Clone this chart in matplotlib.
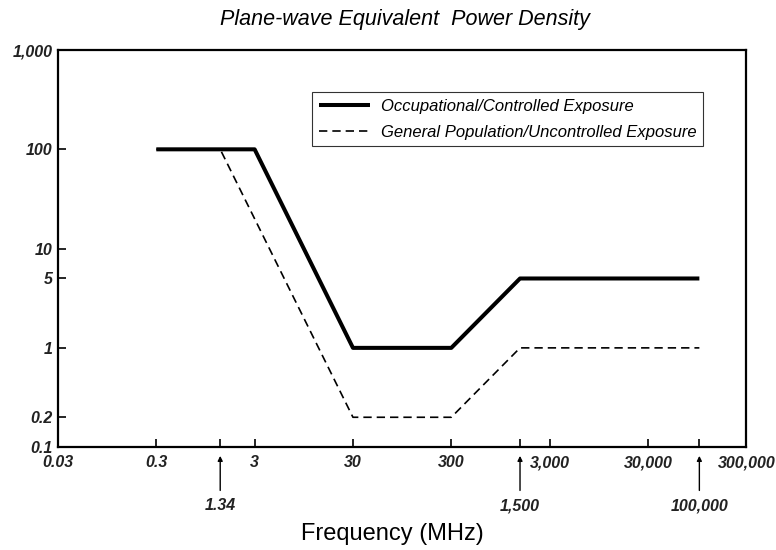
import numpy as np
import matplotlib.pyplot as plt
from matplotlib.ticker import FixedLocator, NullLocator

plt.rcParams['font.family'] = ['Liberation Sans', 'DejaVu Sans']

# data
occ_freq = [0.3, 3, 30, 300, 1500, 100000]
occ_pd = [100, 100, 1, 1, 5, 5]
gen_freq = [0.3, 1.34, 30, 300, 1500, 100000]
gen_pd = [100, 100, 0.2, 0.2, 1, 1]

x_ticks = [0.03, 0.3, 3, 30, 300, 3000, 30000, 300000]
x_labels = ['0.03', '0.3', '3', '30', '300', '3,000', '30,000', '300,000']
y_ticks = [0.1, 0.2, 1, 5, 10, 100, 1000]
y_labels = ['0.1', '0.2', '1', '5', '10', '100', '1,000']
mark_freq = [1.34, 1500, 100000]
mark_labels = ['1.34', '1,500', '100,000']

fig = plt.figure(figsize=(7.76, 5.5), dpi=100)
ax = fig.add_axes([0.0747, 0.187, 0.887, 0.722])

ax.plot(occ_freq, occ_pd, color='black', lw=2.9, solid_capstyle='butt',
        label='Occupational/Controlled Exposure')
ax.plot(gen_freq, gen_pd, color='black', lw=1.2, dashes=(5, 3),
        label='General Population/Uncontrolled Exposure')

ax.set_xscale('log')
ax.set_yscale('log')
ax.set_xlim(0.03, 300000)
ax.set_ylim(0.1, 1000)

ax.xaxis.set_major_locator(FixedLocator(x_ticks + mark_freq))
ax.set_xticklabels(x_labels + [''] * len(mark_freq))
ax.xaxis.set_minor_locator(NullLocator())
ax.yaxis.set_major_locator(FixedLocator(y_ticks))
ax.set_yticklabels(y_labels)
ax.yaxis.set_minor_locator(NullLocator())

ax.tick_params(direction='in', length=5.5, width=1.2)
ax.tick_params(axis='x', pad=6)
ax.tick_params(axis='y', pad=4)
for lab in ax.get_xticklabels() + ax.get_yticklabels():
    lab.set_fontstyle('italic')
    lab.set_fontsize(11.5)
    lab.set_fontweight('bold')
    lab.set_color('#222222')
for s in ax.spines.values():
    s.set_linewidth(1.6)

# arrows marking the break frequencies
trans = ax.get_xaxis_transform()
for f, t in zip(mark_freq, mark_labels):
    ax.annotate('', xy=(f, -0.015), xycoords=trans,
                xytext=(f, -0.116), textcoords=trans,
                arrowprops=dict(arrowstyle='-|>', color='black', lw=1.0,
                                mutation_scale=7), annotation_clip=False)
    ax.text(f, -0.147, t, transform=trans, ha='center', va='center',
            fontsize=11.5, fontstyle='italic', fontweight='bold',
            color='#222222')

fig.text(405 / 776, 1 - 19 / 550, 'Plane-wave Equivalent  Power Density',
         fontsize=15.5, fontstyle='italic', ha='center', va='center')
fig.text(392 / 776, 1 - 534 / 550, 'Frequency (MHz)', fontsize=17,
         ha='center', va='center')

leg = ax.legend(loc='upper left', bbox_to_anchor=(0.369, 0.894),
                frameon=True, fancybox=False, edgecolor='black',
                handlelength=3.1, handletextpad=0.65,
                prop={'style': 'italic', 'size': 12},
                borderpad=0.4, borderaxespad=0, labelspacing=0.65)
leg.get_frame().set_linewidth(0.8)

fig.savefig('out.png', dpi=100)
